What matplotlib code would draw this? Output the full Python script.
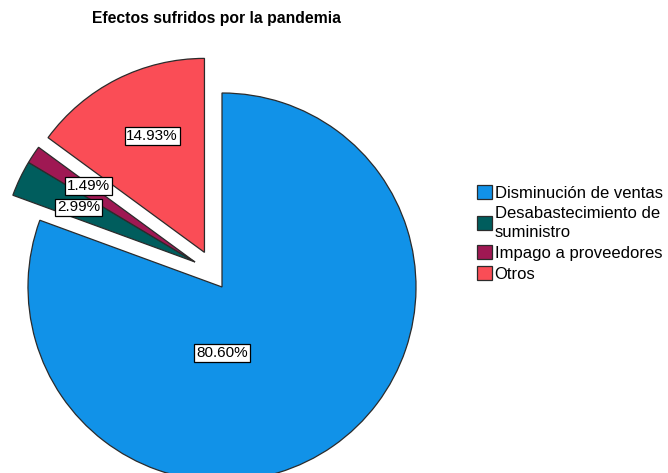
import matplotlib.pyplot as plt
plt.switch_backend('agg')
from matplotlib.patches import Patch

# data
categories = ['Disminución de ventas', 'Desabastecimiento de\nsuministro',
              'Impago a proveedores', 'Otros']
percents = [80.60, 2.99, 1.49, 14.93]
colors = ['#1192e8', '#005d5d', '#9f1853', '#fa4d56']
explode = [0, 0.2, 0.2, 0.2]

# where SPSS put the percent boxes (data units, pie radius = 1)
label_pos = [(0.0, -0.34), (-0.74, 0.41), (-0.69, 0.52), (-0.36, 0.78)]
# the two thin slices are pulled out together, sharing one apex
small_center = (-27 / 194, 25 / 194)

plt.rcParams['font.family'] = ['Liberation Sans', 'DejaVu Sans']

fig = plt.figure(figsize=(6.68, 4.73), dpi=100)
ax = fig.add_axes([0, 0, 1, 1])

wedges, _ = ax.pie(percents, colors=colors, explode=explode, startangle=90,
                   counterclock=False, radius=1,
                   wedgeprops=dict(edgecolor='#2b2b2b', linewidth=0.9))
wedges[1].set_center(small_center)
wedges[2].set_center(small_center)

# pie centre at (222, 287) px, radius 194 px
ax.set_aspect('auto')
ax.set_xlim(-222 / 194, (668 - 222) / 194)
ax.set_ylim((287 - 473) / 194, 287 / 194)
ax.axis('off')

for p, (x, y) in zip(percents, label_pos):
    ax.text(x, y, '%.2f%%' % p, ha='center', va='center', fontsize=11,
            bbox=dict(boxstyle='square,pad=0.12', fc='white', ec='black', lw=0.9))

fig.text(216 / 668, 1 - 18 / 473, 'Efectos sufridos por la pandemia',
         ha='center', va='center', fontsize=11.3, fontweight='bold')

handles = [Patch(facecolor=c, edgecolor='#2b2b2b', linewidth=0.9) for c in colors]
leg = fig.legend(handles, categories, loc='upper left',
                 bbox_to_anchor=(477 / 668, 1 - 185 / 473), frameon=False,
                 fontsize=12, handlelength=0.9, handleheight=0.9,
                 handletextpad=0.15, labelspacing=0.3, borderaxespad=0,
                 borderpad=0)
for t in leg.get_texts():
    t.set_linespacing(1.4)

plt.savefig('out.png')
